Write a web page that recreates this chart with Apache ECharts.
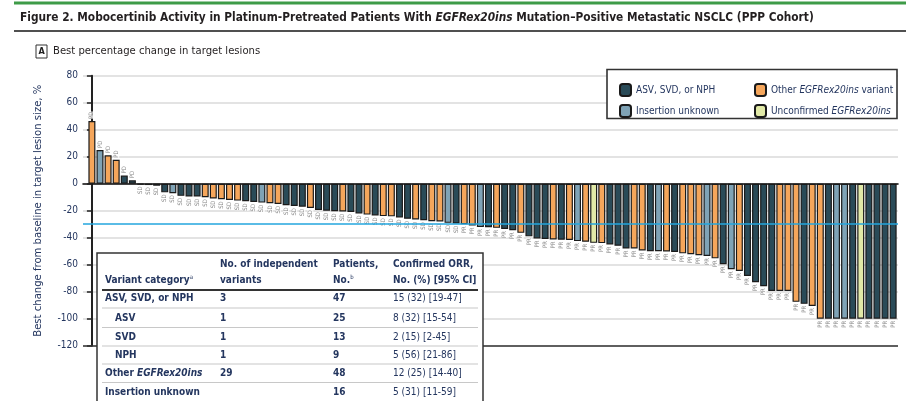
<!DOCTYPE html>
<html>
<head>
<meta charset="utf-8">
<script src="https://cdn.jsdelivr.net/npm/echarts@6/dist/echarts.min.js"></script>
<style>
  html, body { margin: 0; padding: 0; background: #fff; }
  #chart { width: 910px; height: 401px; }
</style>
</head>
<body>
<div id="chart"></div>
<script>
// Best percentage change in target lesion size per patient (sorted waterfall)
const changes = [
  46.5, 25, 21, 17.7, 6, 2.5, -0.5, -1, -1.5, -6.4,
  -7, -9, -9.5, -9.5, -10, -11, -11.5, -12, -12.5, -13,
  -13.5, -14, -14.5, -15, -16, -16.5, -17, -18, -19.5, -20,
  -20.4, -20.6, -21, -22, -22.9, -23.5, -24, -24.2, -25, -26,
  -26.5, -27, -27.8, -28, -29, -29.5, -30, -31, -32, -32.3,
  -32.7, -33.5, -34.5, -36.4, -39, -40.5, -41, -41.3, -41.5, -41.7,
  -42.5, -43, -43.8, -44, -45, -46, -48, -48, -49.5, -50,
  -50, -50.2, -50.6, -51.6, -52.3, -53, -53.6, -55.3, -59.7, -63.4,
  -64.7, -68.4, -73, -76, -79.4, -79.4, -79.4, -87.5, -89, -90.5,
  -100, -100, -100, -100, -100, -100, -100, -100, -100, -100
];

// Variant group per patient: A = ASV/SVD/NPH, O = other EGFRex20ins,
// U = insertion unknown, N = unconfirmed EGFRex20ins
const variantGroup = [
  'O','U','O','O','A','A','A','A','A','A',
  'U','A','A','A','O','O','O','O','O','A',
  'A','U','O','O','A','A','A','O','A','A',
  'A','O','A','A','O','A','O','O','A','A',
  'O','A','O','O','U','A','O','O','U','A',
  'O','A','A','O','A','A','A','O','A','O',
  'U','O','N','O','A','A','A','O','O','A',
  'U','O','A','O','O','O','U','O','A','U',
  'O','A','A','A','A','O','O','O','A','O',
  'O','A','U','U','A','N','A','A','A','A'
];

// Best overall response per patient
const bestResponse = [
  'PD','PD','PD','PD','PD','PD','SD','SD','SD','SD',
  'SD','SD','SD','SD','SD','SD','SD','SD','SD','SD',
  'SD','SD','SD','SD','SD','SD','SD','SD','SD','SD',
  'SD','SD','SD','SD','SD','SD','SD','SD','SD','SD',
  'SD','SD','SD','SD','SD','SD','PR','PR','PR','PR',
  'PR','PR','PR','PR','PR','PR','PR','PR','PR','PR',
  'PR','PR','PR','PR','PR','PR','PR','PR','PR','PR',
  'PR','PR','PR','PR','PR','PR','PR','PR','PR','PR',
  'PR','PR','PR','PR','PR','PR','PR','PR','PR','PR',
  'PR','PR','PR','PR','PR','PR','PR','PR','PR','PR'
];

const groupNames = {
  A: 'ASV, SVD, or NPH',
  U: 'Insertion unknown',
  O: 'Other EGFRex20ins variant',
  N: 'Unconfirmed EGFRex20ins'
};
const groupColors = { A: '#2a4b58', U: '#7fa3b6', O: '#f5a65b', N: '#e1e9a7' };

const yTicks = { min: -120, max: 80, step: 20 };
const responseThreshold = -30;

// Summary table
const tableHeader = [
  ['', 'Variant category{sup|a}'],
  ['No. of independent', 'variants'],
  ['Patients,', 'No.{sup|b}'],
  ['Confirmed ORR,', 'No. (%) [95% CI]']
];
const tableRows = [
  ['ASV, SVD, or NPH', '3', '47', '15 (32) [19-47]', false],
  ['ASV', '1', '25', '8 (32) [15-54]', true],
  ['SVD', '1', '13', '2 (15) [2-45]', true],
  ['NPH', '1', '9', '5 (56) [21-86]', true],
  ['Other {i|EGFRex20ins}', '29', '48', '12 (25) [14-40]', false],
  ['Insertion unknown', '', '16', '5 (31) [11-59]', false]
];

const FONT = '"Liberation Sans Narrow", "DejaVu Sans Condensed", Roboto, sans-serif';
const NAVY = '#24365f';

const chart = echarts.init(document.getElementById('chart'), null, { renderer: 'canvas' });

const barSeries = ['A', 'U', 'O', 'N'].map(g => ({
  name: groupNames[g],
  type: 'bar',
  barWidth: 7,
  barGap: '-100%',
  itemStyle: { color: groupColors[g], borderColor: '#1a1a1a', borderWidth: 1.2 },
  data: changes.map((v, i) => variantGroup[i] === g ? [i, v] : [i, null]),
  z: 3
}));

// reference lines: -30% response threshold and plot floor
barSeries[0].markLine = {
  silent: true,
  symbol: 'none',
  label: { show: false },
  data: [
    { yAxis: responseThreshold, lineStyle: { color: '#23a6de', width: 1.6, type: 'solid' } },
    { yAxis: yTicks.min, lineStyle: { color: '#333', width: 1.6, type: 'solid' } }
  ],
  z: 5
};

const responseLabels = {
  name: 'response',
  type: 'scatter',
  symbolSize: 0,
  silent: true,
  z: 4,
  data: changes.map((v, i) => ({
    value: [i, v],
    label: {
      position: v > 0 ? 'top' : 'bottom',
      align: v > 0 ? 'left' : 'right',
      distance: 2
    }
  })),
  label: {
    show: true,
    rotate: 90,
    verticalAlign: 'middle',
    fontSize: 6,
    fontFamily: FONT,
    color: '#666',
    backgroundColor: '#fff',
    formatter: p => bestResponse[p.dataIndex]
  }
};

// table graphics
const TABLE_FS = 10;
const tbl = { x: 97, y: 253, w: 386, colX: [105, 220, 333, 393], rowY: [298, 318, 337, 355, 373, 392] };
const richStyles = {
  i: { fontStyle: 'italic', fontFamily: FONT, fontSize: TABLE_FS, fill: NAVY, fontWeight: 'bold' },
  sup: { fontSize: 6, fontFamily: FONT, fill: NAVY, verticalAlign: 'top', padding: [0, 0, 6, 0] }
};
const tableGraphics = [
  { type: 'rect', shape: { x: tbl.x, y: tbl.y, width: tbl.w, height: 170 },
    style: { fill: '#fff', stroke: '#333', lineWidth: 1.5 }, z: 20 }
];
tableHeader.forEach((lines, c) => {
  lines.forEach((t, k) => {
    if (!t) return;
    tableGraphics.push({
      type: 'text', x: tbl.colX[c], y: 264 + k * 16, z: 21,
      style: { text: t, font: 'bold ' + TABLE_FS + 'px ' + FONT, fill: NAVY, verticalAlign: 'middle', rich: richStyles }
    });
  });
});
tableGraphics.push({ type: 'line', shape: { x1: 102, y1: 290, x2: 478, y2: 290 }, style: { stroke: '#333', lineWidth: 2 }, z: 21 });
tableRows.forEach((row, r) => {
  row.slice(0, 4).forEach((t, c) => {
    if (!t) return;
    const x = c === 0 && row[4] ? tbl.colX[0] + 10 : tbl.colX[c];
    tableGraphics.push({
      type: 'text', x: x, y: tbl.rowY[r], z: 21,
      style: { text: t, font: (c === 3 ? '' : 'bold ') + TABLE_FS + 'px ' + FONT, fill: NAVY, verticalAlign: 'middle', rich: richStyles }
    });
  });
  if (r < tableRows.length - 1) {
    const ly = (tbl.rowY[r] + tbl.rowY[r + 1]) / 2;
    tableGraphics.push({ type: 'line', shape: { x1: 102, y1: ly, x2: 478, y2: ly }, style: { stroke: '#c8c8c8', lineWidth: 1.2 }, z: 21 });
  }
});

const legendRich = {
  i: { fontStyle: 'italic', fontFamily: FONT, fontSize: 10, color: NAVY },
  n: { fontFamily: FONT, fontSize: 10, color: NAVY }
};
const legendFormatter = name => name.replace('EGFRex20ins', '{i|EGFRex20ins}').replace(/^([^{]+)/, '{n|$1}').replace(/\}([^{]+)$/, '}{n|$1}');

const option = {
  animation: false,
  backgroundColor: '#fff',
  textStyle: { fontFamily: FONT },
  title: {
    text: 'Figure 2. Mobocertinib Activity in Platinum-Pretreated Patients With {i|EGFRex20ins} Mutation–Positive Metastatic NSCLC (PPP Cohort)',
    left: 15, top: 7,
    textStyle: {
      fontFamily: FONT, fontSize: 11.8, fontWeight: 'bold', color: '#231f20',
      rich: { i: { fontFamily: FONT, fontSize: 11.8, fontWeight: 'bold', fontStyle: 'italic', color: '#231f20' } }
    }
  },
  legend: [
    {
      data: [groupNames.A, groupNames.U], orient: 'vertical', left: 614, top: 78,
      itemWidth: 11, itemHeight: 12, itemGap: 7, z: 10, selectedMode: false,
      textStyle: { fontFamily: FONT, fontSize: 10, color: NAVY, rich: legendRich },
      formatter: legendFormatter
    },
    {
      data: [groupNames.O, groupNames.N], orient: 'vertical', left: 749, top: 78,
      itemWidth: 11, itemHeight: 12, itemGap: 7, z: 10, selectedMode: false,
      textStyle: { fontFamily: FONT, fontSize: 10, color: NAVY, rich: legendRich },
      formatter: legendFormatter
    }
  ],
  grid: { left: 83, right: 12, top: 75.7, bottom: 55.3 },
  xAxis: {
    type: 'value', min: -1.1, max: 99.6,
    axisLine: { onZero: true, lineStyle: { color: '#111', width: 1.6 } },
    axisTick: { show: false }, axisLabel: { show: false }, splitLine: { show: false }
  },
  yAxis: {
    type: 'value', min: yTicks.min, max: yTicks.max, interval: yTicks.step,
    name: 'Best change from baseline in target lesion size, %',
    nameLocation: 'middle', nameGap: 39,
    nameTextStyle: { fontFamily: FONT, fontSize: 11.2, color: NAVY },
    axisLine: { show: true, lineStyle: { color: '#222', width: 2 } },
    axisTick: { show: true, length: 5, lineStyle: { color: '#222', width: 1.5 } },
    axisLabel: { fontFamily: FONT, fontSize: 10, color: NAVY, margin: 5 },
    splitLine: { lineStyle: { color: '#dadada', width: 1.6 } }
  },
  graphic: [
    { type: 'line', shape: { x1: 14, y1: 3, x2: 906, y2: 3 }, style: { stroke: '#3e9b48', lineWidth: 3 } },
    { type: 'line', shape: { x1: 14, y1: 31, x2: 906, y2: 31 }, style: { stroke: '#505050', lineWidth: 2 } },
    { type: 'rect', shape: { x: 36, y: 45, width: 11, height: 13 }, style: { fill: '#fff', stroke: '#333', lineWidth: 1 } },
    { type: 'text', x: 38.5, y: 51.5, style: { text: 'A', font: 'bold 9px ' + FONT, fill: '#222', verticalAlign: 'middle' } },
    { type: 'text', x: 53, y: 51.5, style: { text: 'Best percentage change in target lesions', font: '11.2px ' + FONT, fill: '#231f20', verticalAlign: 'middle' } },
    { type: 'rect', shape: { x: 607, y: 69.5, width: 290, height: 49 }, style: { fill: '#fff', stroke: '#333', lineWidth: 1.6 }, z: 5 }
  ].concat(tableGraphics),
  series: barSeries.concat([responseLabels])
};

chart.setOption(option);
</script>
</body>
</html>
